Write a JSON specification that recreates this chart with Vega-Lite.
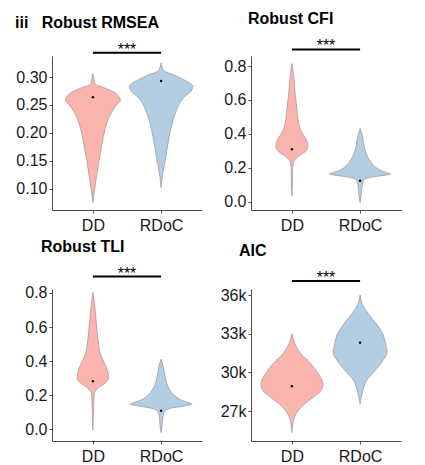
{
  "$schema": "https://vega.github.io/schema/vega-lite/v6.json",
  "padding": {"left": 15, "top": 11, "right": 5, "bottom": 5},
  "background": "white",
  "datasets": {
    "rmsea_dd": [
      {"v": 0.075, "w": 0}, {"v": 0.096, "w": 0.044}, {"v": 0.12, "w": 0.103}, {"v": 0.149, "w": 0.176},
      {"v": 0.179, "w": 0.264}, {"v": 0.209, "w": 0.367}, {"v": 0.233, "w": 0.513}, {"v": 0.243, "w": 0.616},
      {"v": 0.251, "w": 0.704}, {"v": 0.258, "w": 0.807}, {"v": 0.265, "w": 0.763}, {"v": 0.272, "w": 0.645},
      {"v": 0.281, "w": 0.323}, {"v": 0.287, "w": 0.073}, {"v": 0.297, "w": 0.029}, {"v": 0.306, "w": 0}
    ],
    "rmsea_rdoc": [
      {"v": 0.102, "w": 0}, {"v": 0.126, "w": 0.044}, {"v": 0.149, "w": 0.117}, {"v": 0.179, "w": 0.197},
      {"v": 0.209, "w": 0.293}, {"v": 0.239, "w": 0.44}, {"v": 0.251, "w": 0.528}, {"v": 0.263, "w": 0.66},
      {"v": 0.275, "w": 0.88}, {"v": 0.284, "w": 0.93}, {"v": 0.293, "w": 0.733}, {"v": 0.302, "w": 0.44},
      {"v": 0.311, "w": 0.088}, {"v": 0.318, "w": 0.029}, {"v": 0.3256, "w": 0}
    ],
    "rmsea_mean": [{"g": "DD", "m": 0.264}, {"g": "RDoC", "m": 0.293}],
    "cfi_dd": [
      {"v": 0.034, "w": 0}, {"v": 0.1, "w": 0.015}, {"v": 0.2, "w": 0.021}, {"v": 0.24, "w": 0.059},
      {"v": 0.269, "w": 0.205}, {"v": 0.299, "w": 0.411}, {"v": 0.328, "w": 0.469}, {"v": 0.368, "w": 0.419},
      {"v": 0.407, "w": 0.293}, {"v": 0.456, "w": 0.205}, {"v": 0.535, "w": 0.155}, {"v": 0.633, "w": 0.097},
      {"v": 0.731, "w": 0.059}, {"v": 0.814, "w": 0}
    ],
    "cfi_rdoc": [
      {"v": -0.006, "w": 0}, {"v": 0.03, "w": 0.029}, {"v": 0.06, "w": 0.044}, {"v": 0.1, "w": 0.067},
      {"v": 0.128, "w": 0.117}, {"v": 0.138, "w": 0.205}, {"v": 0.145, "w": 0.352}, {"v": 0.152, "w": 0.587},
      {"v": 0.158, "w": 0.792}, {"v": 0.164, "w": 0.909}, {"v": 0.168, "w": 0.851}, {"v": 0.177, "w": 0.704},
      {"v": 0.19, "w": 0.557}, {"v": 0.206, "w": 0.44}, {"v": 0.246, "w": 0.279}, {"v": 0.27, "w": 0.205},
      {"v": 0.305, "w": 0.147}, {"v": 0.33, "w": 0.117}, {"v": 0.383, "w": 0.073}, {"v": 0.432, "w": 0}
    ],
    "cfi_mean": [{"g": "DD", "m": 0.309}, {"g": "RDoC", "m": 0.124}],
    "tli_dd": [
      {"v": -0.005, "w": 0}, {"v": 0.1, "w": 0.018}, {"v": 0.206, "w": 0.038}, {"v": 0.235, "w": 0.117},
      {"v": 0.265, "w": 0.323}, {"v": 0.3, "w": 0.463}, {"v": 0.343, "w": 0.431}, {"v": 0.382, "w": 0.352},
      {"v": 0.441, "w": 0.22}, {"v": 0.519, "w": 0.155}, {"v": 0.618, "w": 0.103}, {"v": 0.715, "w": 0.059},
      {"v": 0.804, "w": 0}
    ],
    "tli_rdoc": [
      {"v": -0.02, "w": 0}, {"v": 0.02, "w": 0.029}, {"v": 0.05, "w": 0.044}, {"v": 0.085, "w": 0.067},
      {"v": 0.11, "w": 0.117}, {"v": 0.119, "w": 0.205}, {"v": 0.126, "w": 0.352}, {"v": 0.134, "w": 0.587},
      {"v": 0.141, "w": 0.792}, {"v": 0.147, "w": 0.909}, {"v": 0.153, "w": 0.851}, {"v": 0.163, "w": 0.704},
      {"v": 0.175, "w": 0.557}, {"v": 0.19, "w": 0.44}, {"v": 0.225, "w": 0.279}, {"v": 0.25, "w": 0.205},
      {"v": 0.284, "w": 0.147}, {"v": 0.31, "w": 0.117}, {"v": 0.362, "w": 0.073}, {"v": 0.412, "w": 0}
    ],
    "tli_mean": [{"g": "DD", "m": 0.282}, {"g": "RDoC", "m": 0.108}],
    "aic_dd": [
      {"v": 25330, "w": 0}, {"v": 26500, "w": 0.073}, {"v": 27020, "w": 0.176}, {"v": 27550, "w": 0.367},
      {"v": 28060, "w": 0.616}, {"v": 28580, "w": 0.851}, {"v": 29110, "w": 0.909}, {"v": 29890, "w": 0.777},
      {"v": 30670, "w": 0.557}, {"v": 31450, "w": 0.264}, {"v": 32230, "w": 0.088}, {"v": 33010, "w": 0}
    ],
    "aic_rdoc": [
      {"v": 27550, "w": 0}, {"v": 28580, "w": 0.082}, {"v": 29360, "w": 0.185}, {"v": 30150, "w": 0.44},
      {"v": 30930, "w": 0.675}, {"v": 31570, "w": 0.792}, {"v": 32230, "w": 0.748}, {"v": 33010, "w": 0.66},
      {"v": 33790, "w": 0.469}, {"v": 34570, "w": 0.235}, {"v": 35350, "w": 0.059}, {"v": 36000, "w": 0}
    ],
    "aic_mean": [{"g": "DD", "m": 28920}, {"g": "RDoC", "m": 32310}],
    "sig": [{"label": "***"}]
  },
  "columns": 2,
  "spacing": {"column": 18, "row": 5},
  "concat": [
    {
      "width": 150, "height": 154,
      "title": {"text": "iii\u00a0\u00a0\u00a0Robust RMSEA", "dx": -37},
      "resolve": {"scale": {"x": "independent"}, "axis": {"x": "independent"}},
      "layer": [
        {"data": {"name": "rmsea_dd"},
         "mark": {"type": "area", "orient": "horizontal", "fill": "#FBB4AE", "stroke": "#8a8a8a", "strokeWidth": 0.6, "interpolate": "monotone"},
         "encoding": {
           "y": {"field": "v", "type": "quantitative", "scale": {"domain": [0.062, 0.3376], "nice": false, "zero": false},
                 "axis": {"values": [0.1, 0.15, 0.2, 0.25, 0.3], "format": ".2f", "title": null, "labelOverlap": false, "tickCount": 5}},
           "x": {"field": "w", "type": "quantitative", "stack": "center", "scale": {"domain": [-0.1965, 2.0035]}, "axis": null}}},
        {"data": {"name": "rmsea_rdoc"},
         "mark": {"type": "area", "orient": "horizontal", "fill": "#B3CDE3", "stroke": "#8a8a8a", "strokeWidth": 0.6, "interpolate": "monotone"},
         "encoding": {
           "y": {"field": "v", "type": "quantitative"},
           "x": {"field": "w", "type": "quantitative", "stack": "center", "scale": {"domain": [-1.135, 1.065]}, "axis": null}}},
        {"data": {"name": "rmsea_mean"},
         "mark": {"type": "point", "filled": true, "color": "black", "size": 6, "opacity": 1},
         "encoding": {
           "x": {"field": "g", "type": "nominal", "scale": {"type": "point", "padding": 0.6, "domain": ["DD", "RDoC"]}, "axis": {"title": null, "labelAngle": 0}},
           "y": {"field": "m", "type": "quantitative"}}},
        {"data": {"name": "sig"},
         "mark": {"type": "rule", "strokeWidth": 2, "color": "black"},
         "encoding": {
           "x": {"datum": 1, "type": "quantitative", "scale": {"domain": [0.4, 2.6]}, "axis": null},
           "x2": {"datum": 2},
           "y": {"datum": 0.3436, "type": "quantitative"}}},
        {"data": {"name": "sig"},
         "mark": {"type": "text", "fontSize": 16, "baseline": "alphabetic", "dy": 2, "color": "black", "font": "Liberation Sans"},
         "encoding": {
           "text": {"field": "label"},
           "x": {"datum": 1.5, "type": "quantitative", "scale": {"domain": [0.4, 2.6]}, "axis": null},
           "y": {"datum": 0.3436, "type": "quantitative"}}}
      ]
    },
    {
      "width": 150, "height": 154,
      "title": {"text": "Robust CFI", "dx": -3},
      "resolve": {"scale": {"x": "independent"}, "axis": {"x": "independent"}},
      "layer": [
        {"data": {"name": "cfi_dd"},
         "mark": {"type": "area", "orient": "horizontal", "fill": "#FBB4AE", "stroke": "#8a8a8a", "strokeWidth": 0.6, "interpolate": "monotone"},
         "encoding": {
           "y": {"field": "v", "type": "quantitative", "scale": {"domain": [-0.049, 0.859], "nice": false, "zero": false},
                 "axis": {"values": [0, 0.2, 0.4, 0.6, 0.8], "format": ".1f", "title": null, "labelOverlap": false, "tickCount": 5}},
           "x": {"field": "w", "type": "quantitative", "stack": "center", "scale": {"domain": [-0.3655, 1.8345]}, "axis": null}}},
        {"data": {"name": "cfi_rdoc"},
         "mark": {"type": "area", "orient": "horizontal", "fill": "#B3CDE3", "stroke": "#8a8a8a", "strokeWidth": 0.6, "interpolate": "monotone"},
         "encoding": {
           "y": {"field": "v", "type": "quantitative"},
           "x": {"field": "w", "type": "quantitative", "stack": "center", "scale": {"domain": [-1.1455, 1.0545]}, "axis": null}}},
        {"data": {"name": "cfi_mean"},
         "mark": {"type": "point", "filled": true, "color": "black", "size": 6, "opacity": 1},
         "encoding": {
           "x": {"field": "g", "type": "nominal", "scale": {"type": "point", "padding": 0.6, "domain": ["DD", "RDoC"]}, "axis": {"title": null, "labelAngle": 0}},
           "y": {"field": "m", "type": "quantitative"}}},
        {"data": {"name": "sig"},
         "mark": {"type": "rule", "strokeWidth": 2, "color": "black"},
         "encoding": {
           "x": {"datum": 1, "type": "quantitative", "scale": {"domain": [0.4, 2.6]}, "axis": null},
           "x2": {"datum": 2},
           "y": {"datum": 0.898, "type": "quantitative"}}},
        {"data": {"name": "sig"},
         "mark": {"type": "text", "fontSize": 16, "baseline": "alphabetic", "dy": 2, "color": "black", "font": "Liberation Sans"},
         "encoding": {
           "text": {"field": "label"},
           "x": {"datum": 1.5, "type": "quantitative", "scale": {"domain": [0.4, 2.6]}, "axis": null},
           "y": {"datum": 0.898, "type": "quantitative"}}}
      ]
    },
    {
      "width": 150, "height": 152,
      "title": {"text": "Robust TLI", "dx": -11},
      "resolve": {"scale": {"x": "independent"}, "axis": {"x": "independent"}},
      "layer": [
        {"data": {"name": "tli_dd"},
         "mark": {"type": "area", "orient": "horizontal", "fill": "#FBB4AE", "stroke": "#8a8a8a", "strokeWidth": 0.6, "interpolate": "monotone"},
         "encoding": {
           "y": {"field": "v", "type": "quantitative", "scale": {"domain": [-0.069, 0.823], "nice": false, "zero": false},
                 "axis": {"values": [0, 0.2, 0.4, 0.6, 0.8], "format": ".1f", "title": null, "labelOverlap": false, "tickCount": 5}},
           "x": {"field": "w", "type": "quantitative", "stack": "center", "scale": {"domain": [-0.3685, 1.8315]}, "axis": null}}},
        {"data": {"name": "tli_rdoc"},
         "mark": {"type": "area", "orient": "horizontal", "fill": "#B3CDE3", "stroke": "#8a8a8a", "strokeWidth": 0.6, "interpolate": "monotone"},
         "encoding": {
           "y": {"field": "v", "type": "quantitative"},
           "x": {"field": "w", "type": "quantitative", "stack": "center", "scale": {"domain": [-1.1455, 1.0545]}, "axis": null}}},
        {"data": {"name": "tli_mean"},
         "mark": {"type": "point", "filled": true, "color": "black", "size": 6, "opacity": 1},
         "encoding": {
           "x": {"field": "g", "type": "nominal", "scale": {"type": "point", "padding": 0.6, "domain": ["DD", "RDoC"]}, "axis": {"title": null, "labelAngle": 0}},
           "y": {"field": "m", "type": "quantitative"}}},
        {"data": {"name": "sig"},
         "mark": {"type": "rule", "strokeWidth": 2, "color": "black"},
         "encoding": {
           "x": {"datum": 1, "type": "quantitative", "scale": {"domain": [0.4, 2.6]}, "axis": null},
           "x2": {"datum": 2},
           "y": {"datum": 0.896, "type": "quantitative"}}},
        {"data": {"name": "sig"},
         "mark": {"type": "text", "fontSize": 16, "baseline": "alphabetic", "dy": 2, "color": "black", "font": "Liberation Sans"},
         "encoding": {
           "text": {"field": "label"},
           "x": {"datum": 1.5, "type": "quantitative", "scale": {"domain": [0.4, 2.6]}, "axis": null},
           "y": {"datum": 0.896, "type": "quantitative"}}}
      ]
    },
    {
      "width": 150, "height": 152,
      "title": {"text": "AIC", "dx": -12},
      "resolve": {"scale": {"x": "independent"}, "axis": {"x": "independent"}},
      "layer": [
        {"data": {"name": "aic_dd"},
         "mark": {"type": "area", "orient": "horizontal", "fill": "#FBB4AE", "stroke": "#8a8a8a", "strokeWidth": 0.6, "interpolate": "monotone"},
         "encoding": {
           "y": {"field": "v", "type": "quantitative", "scale": {"domain": [24680, 36470], "nice": false, "zero": false},
                 "axis": {"values": [27000, 30000, 33000, 36000], "format": "~s", "title": null, "labelOverlap": false, "tickCount": 4}},
           "x": {"field": "w", "type": "quantitative", "stack": "center", "scale": {"domain": [-0.1455, 2.0545]}, "axis": null}}},
        {"data": {"name": "aic_rdoc"},
         "mark": {"type": "area", "orient": "horizontal", "fill": "#B3CDE3", "stroke": "#8a8a8a", "strokeWidth": 0.6, "interpolate": "monotone"},
         "encoding": {
           "y": {"field": "v", "type": "quantitative"},
           "x": {"field": "w", "type": "quantitative", "stack": "center", "scale": {"domain": [-1.204, 0.996]}, "axis": null}}},
        {"data": {"name": "aic_mean"},
         "mark": {"type": "point", "filled": true, "color": "black", "size": 6, "opacity": 1},
         "encoding": {
           "x": {"field": "g", "type": "nominal", "scale": {"type": "point", "padding": 0.6, "domain": ["DD", "RDoC"]}, "axis": {"title": null, "labelAngle": 0}},
           "y": {"field": "m", "type": "quantitative"}}},
        {"data": {"name": "sig"},
         "mark": {"type": "rule", "strokeWidth": 2, "color": "black"},
         "encoding": {
           "x": {"datum": 1, "type": "quantitative", "scale": {"domain": [0.4, 2.6]}, "axis": null},
           "x2": {"datum": 2},
           "y": {"datum": 37090, "type": "quantitative"}}},
        {"data": {"name": "sig"},
         "mark": {"type": "text", "fontSize": 16, "baseline": "alphabetic", "dy": 2, "color": "black", "font": "Liberation Sans"},
         "encoding": {
           "text": {"field": "label"},
           "x": {"datum": 1.5, "type": "quantitative", "scale": {"domain": [0.4, 2.6]}, "axis": null},
           "y": {"datum": 37090, "type": "quantitative"}}}
      ]
    }
  ],
  "config": {
    "view": {"stroke": null},
    "axis": {
      "grid": false, "domainColor": "#4d4d4d", "tickColor": "#4d4d4d", "domainWidth": 1, "tickWidth": 1,
      "tickSize": 3, "labelFont": "Liberation Sans", "labelFontSize": 16, "labelColor": "#1a1a1a", "labelPadding": 2,
      "labelOverlap": false
    },
    "axisX": {"labelPadding": 4},
    "title": {"font": "Liberation Sans", "fontSize": 16, "fontWeight": "bold", "anchor": "start", "frame": "group", "color": "black", "offset": 11}
  }
}
